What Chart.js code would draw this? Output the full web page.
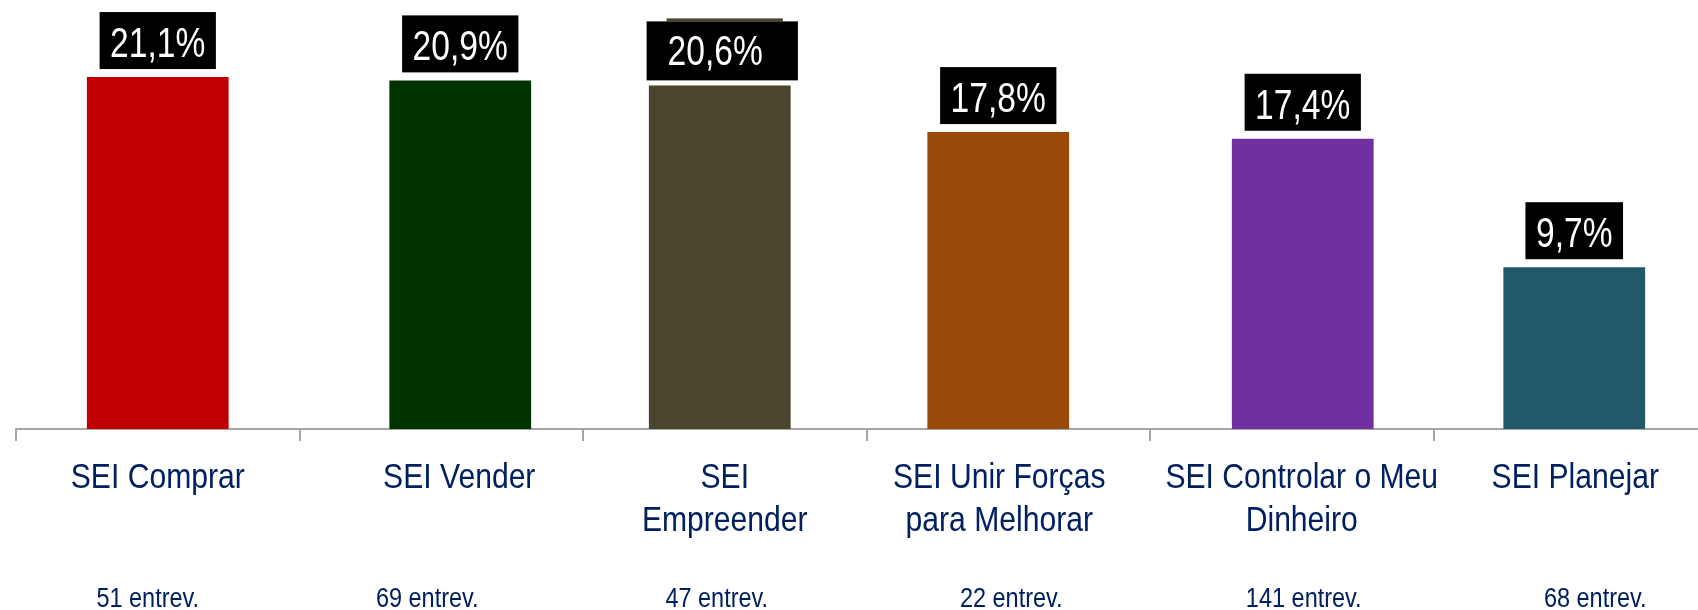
<!DOCTYPE html>
<html>
<head>
<meta charset="utf-8">
<script src="https://cdn.jsdelivr.net/npm/chart.js@4/dist/chart.umd.min.js"></script>
<style>
  html, body { margin: 0; padding: 0; background: #fff; overflow: hidden; }
  #wrap { position: absolute; left: 0; top: 0; width: 1717px; height: 610px; }
</style>
</head>
<body>
<div id="wrap"><canvas id="chart"></canvas></div>
<script>
// values
const categories = [
    ['SEI Comprar'],
    ['SEI Vender'],
    ['SEI', 'Empreender'],
    ['SEI Unir Forças', 'para Melhorar'],
    ['SEI Controlar o Meu', 'Dinheiro'],
    ['SEI Planejar']
];
const shares = [21.1, 20.9, 20.6, 17.8, 17.4, 9.7];
const interviews = [51, 69, 47, 22, 141, 68];
const barColors = ['#c00000', '#003300', '#4a452d', '#984807', '#7030a0', '#215968'];

const FONT = "'Liberation Sans', Arial, sans-serif";
const NAVY = '#002060';

// the source slide has its bars and text boxes nudged off the category centres
const barNudge = [0, 19, -5, -10, 11, -1];
const labelShift = [0, 18, 0, -9, 10, 0];
const countShift = [-10, -14, -8, 3, 12, 20];

const fmt = v => v.toFixed(1).replace('.', ',') + '%';

// draw condensed text (the original uses a narrow face)
function narrowText(ctx, text, x, y, size, sx, color) {
    ctx.save();
    ctx.font = size + 'px ' + FONT;
    ctx.fillStyle = color;
    ctx.textAlign = 'center';
    ctx.textBaseline = 'alphabetic';
    ctx.translate(x, y);
    ctx.scale(sx, 1);
    ctx.fillText(text, 0, 0);
    ctx.restore();
}

const valueBoxes = {
    id: 'valueBoxes',
    afterDatasetsUpdate(chart) {
        chart.getDatasetMeta(0).data.forEach((bar, i) => { bar.x += barNudge[i]; });
    },
    afterDatasetsDraw(chart) {
        const ctx = chart.ctx;
        const meta = chart.getDatasetMeta(0);
        meta.data.forEach((bar, i) => {
            const text = fmt(shares[i]);
            ctx.save();
            ctx.font = '42px ' + FONT;
            const w = ctx.measureText(text).width * 0.8;
            ctx.restore();
            let left = bar.x - w / 2 - 10.5, right = bar.x + w / 2 + 10.5;
            let top = bar.y - 65, bottom = bar.y - 8;
            let tx = bar.x;
            const baseline = bottom - 12;
            if (i === 2) {
                // misaligned label box in the original
                ctx.fillStyle = barColors[i];
                ctx.fillRect(left + 5, top - 2, right - left, 3);
                left -= 15; right += 20; top += 1; bottom += 3;
                tx -= 4.5;
            }
            ctx.fillStyle = '#000';
            ctx.fillRect(left, top, right - left, bottom - top);
            narrowText(ctx, text, tx, baseline, 42, 0.8, '#fff');
        });
    },
    afterDraw(chart) {
        const ctx = chart.ctx;
        const xs = chart.scales.x;
        categories.forEach((lines, i) => {
            const cx = xs.getPixelForValue(i);
            lines.forEach((ln, j) => {
                narrowText(ctx, ln, cx + labelShift[i], 488 + j * 43, 35, 0.86, NAVY);
            });
            narrowText(ctx, interviews[i] + ' entrev.', cx + countShift[i], 607, 27, 0.87, NAVY);
        });
    }
};

new Chart(document.getElementById('chart'), {
    type: 'bar',
    data: {
        labels: categories.map(l => l.join(' ')),
        datasets: [{
            data: shares,
            backgroundColor: barColors,
            borderWidth: 0,
            categoryPercentage: 1,
            barPercentage: 0.5
        }]
    },
    options: {
        responsive: true,
        maintainAspectRatio: false,
        animation: false,
        layout: { padding: { left: 16, right: 0, top: 12, bottom: 0 } },
        plugins: {
            legend: { display: false },
            tooltip: { enabled: false }
        },
        scales: {
            x: {
                offset: true,
                grid: {
                    offset: true,
                    drawOnChartArea: false,
                    drawTicks: true,
                    tickLength: 12,
                    color: '#a6a6a6',
                    lineWidth: 2
                },
                border: { color: '#a6a6a6', width: 2 },
                ticks: { display: false },
                afterFit(scale) { scale.height = 181; }
            },
            y: {
                display: false,
                min: 0,
                max: 25
            }
        }
    },
    plugins: [valueBoxes]
});
</script>
</body>
</html>
